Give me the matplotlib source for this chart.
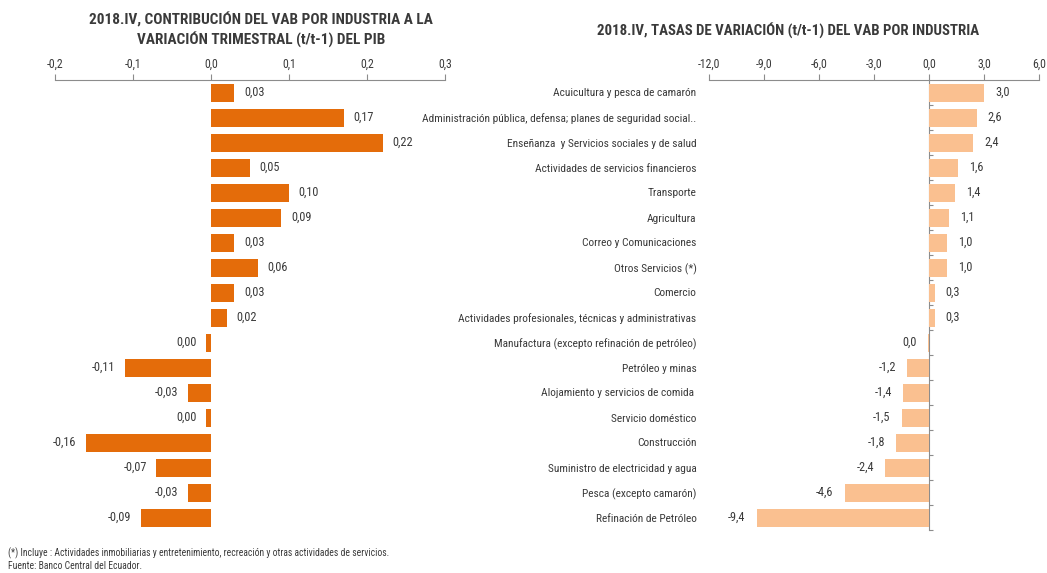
import matplotlib
matplotlib.use("Agg")
import matplotlib.pyplot as plt
from matplotlib import font_manager

names = {f.name for f in font_manager.fontManager.ttflist}
narrow = [n for n in ["Liberation Sans Narrow", "Arial Narrow", "Roboto Condensed"] if n in names]
plt.rcParams['font.family'] = narrow + ['Liberation Sans', 'DejaVu Sans']

categories = [
    "Acuicultura y pesca de camarón",
    "Administración pública, defensa; planes de seguridad social..",
    "Enseñanza  y Servicios sociales y de salud",
    "Actividades de servicios financieros",
    "Transporte",
    "Agricultura",
    "Correo y Comunicaciones",
    "Otros Servicios (*)",
    "Comercio",
    "Actividades profesionales, técnicas y administrativas",
    "Manufactura (excepto refinación de petróleo)",
    "Petróleo y minas",
    "Alojamiento y servicios de comida ",
    "Servicio doméstico",
    "Construcción",
    "Suministro de electricidad y agua",
    "Pesca (excepto camarón)",
    "Refinación de Petróleo",
]
contrib = [0.03, 0.17, 0.22, 0.05, 0.10, 0.09, 0.03, 0.06, 0.03, 0.02,
           -0.006, -0.11, -0.03, -0.006, -0.16, -0.07, -0.03, -0.09]
contrib_labels = ["0,03", "0,17", "0,22", "0,05", "0,10", "0,09", "0,03", "0,06", "0,03", "0,02",
                  "0,00", "-0,11", "-0,03", "0,00", "-0,16", "-0,07", "-0,03", "-0,09"]
rates = [3.0, 2.6, 2.4, 1.6, 1.4, 1.1, 1.0, 1.0, 0.3, 0.3,
         -0.04, -1.2, -1.4, -1.5, -1.8, -2.4, -4.6, -9.4]
rate_labels = ["3,0", "2,6", "2,4", "1,6", "1,4", "1,1", "1,0", "1,0", "0,3", "0,3",
               "0,0", "-1,2", "-1,4", "-1,5", "-1,8", "-2,4", "-4,6", "-9,4"]
left_ticks = [-0.2, -0.1, 0.0, 0.1, 0.2, 0.3]
left_ticklabels = ["-0,2", "-0,1", "0,0", "0,1", "0,2", "0,3"]
right_ticks = [-12, -9, -6, -3, 0, 3, 6]
right_ticklabels = ["-12,0", "-9,0", "-6,0", "-3,0", "0,0", "3,0", "6,0"]

TXT = "#3a3a3a"
AX = "#8c8c8c"
W, H = 1047, 573
fig = plt.figure(figsize=(W / 100, H / 100), dpi=100)

top_px, bot_px = 80, 530
def rect(x0, x1):
    return [x0 / W, 1 - bot_px / H, (x1 - x0) / W, (bot_px - top_px) / H]

n = len(categories)
pos = list(range(n))

# Left panel
ax1 = fig.add_axes(rect(55, 445))
ax1.barh(pos, contrib, height=0.72, color="#E46C0A")
ax1.set_xlim(-0.2, 0.3)
ax1.set_ylim(n - 0.5, -0.5)
ax1.xaxis.tick_top()
ax1.set_xticks(left_ticks, left_ticklabels)
ax1.set_yticks([])
for s in ["bottom", "left", "right"]:
    ax1.spines[s].set_visible(False)
ax1.spines["top"].set_color(AX)
ax1.tick_params(axis="x", colors=TXT, labelsize=8.5, length=4, pad=3)
ax1.tick_params(axis="x", color=AX)
for p, v, lab in zip(pos, contrib, contrib_labels):
    ax1.annotate(lab, (v, p), xytext=(7 if v > 0 else -7, 0), textcoords="offset points",
                 ha="left" if v > 0 else "right", va="center", fontsize=8.8, color=TXT)

# Right panel
ax2 = fig.add_axes(rect(709, 1039))
ax2.barh(pos, rates, height=0.72, color="#FAC090")
ax2.set_xlim(-12, 6)
ax2.set_ylim(n - 0.5, -0.5)
ax2.xaxis.tick_top()
ax2.set_xticks(right_ticks, right_ticklabels)
ax2.set_yticks(pos, categories)
for s in ["bottom", "left", "right"]:
    ax2.spines[s].set_visible(False)
ax2.spines["top"].set_color(AX)
ax2.tick_params(axis="x", colors=TXT, labelsize=8.5, length=4, pad=3)
ax2.tick_params(axis="x", color=AX)
ax2.tick_params(axis="y", length=0, pad=9, labelsize=8.2, colors=TXT)
for p, v, lab in zip(pos, rates, rate_labels):
    ax2.annotate(lab, (v, p), xytext=(8 if v > 0 else -8, 0), textcoords="offset points",
                 ha="left" if v > 0 else "right", va="center", fontsize=8.8, color=TXT)
zero_frac = (0 - (-12)) / (6 - (-12))
sec = ax2.secondary_yaxis(zero_frac)
sec.set_yticks([p + 0.5 for p in pos], [""] * n)
for s in sec.spines.values():
    s.set_color(AX)
sec.tick_params(axis="y", length=3, color=AX)

fig.text(261 / W, 1 - 20 / H, "2018.IV, CONTRIBUCIÓN DEL VAB POR INDUSTRIA A LA",
         ha="center", va="center", fontsize=11, fontweight="bold", color=TXT)
fig.text(261 / W, 1 - 40 / H, "VARIACIÓN TRIMESTRAL (t/t-1) DEL PIB",
         ha="center", va="center", fontsize=11, fontweight="bold", color=TXT)
fig.text(788 / W, 1 - 31 / H, "2018.IV, TASAS DE VARIACIÓN (t/t-1) DEL VAB POR INDUSTRIA",
         ha="center", va="center", fontsize=10.7, fontweight="bold", color=TXT)
fig.text(8 / W, 1 - 553 / H,
         "(*) Incluye : Actividades inmobiliarias y entretenimiento, recreación y otras actividades de servicios.",
         ha="left", va="center", fontsize=6.9, color=TXT)
fig.text(8 / W, 1 - 566 / H, "Fuente: Banco Central del Ecuador.",
         ha="left", va="center", fontsize=6.9, color=TXT)

fig.savefig("out.png", dpi=100)
